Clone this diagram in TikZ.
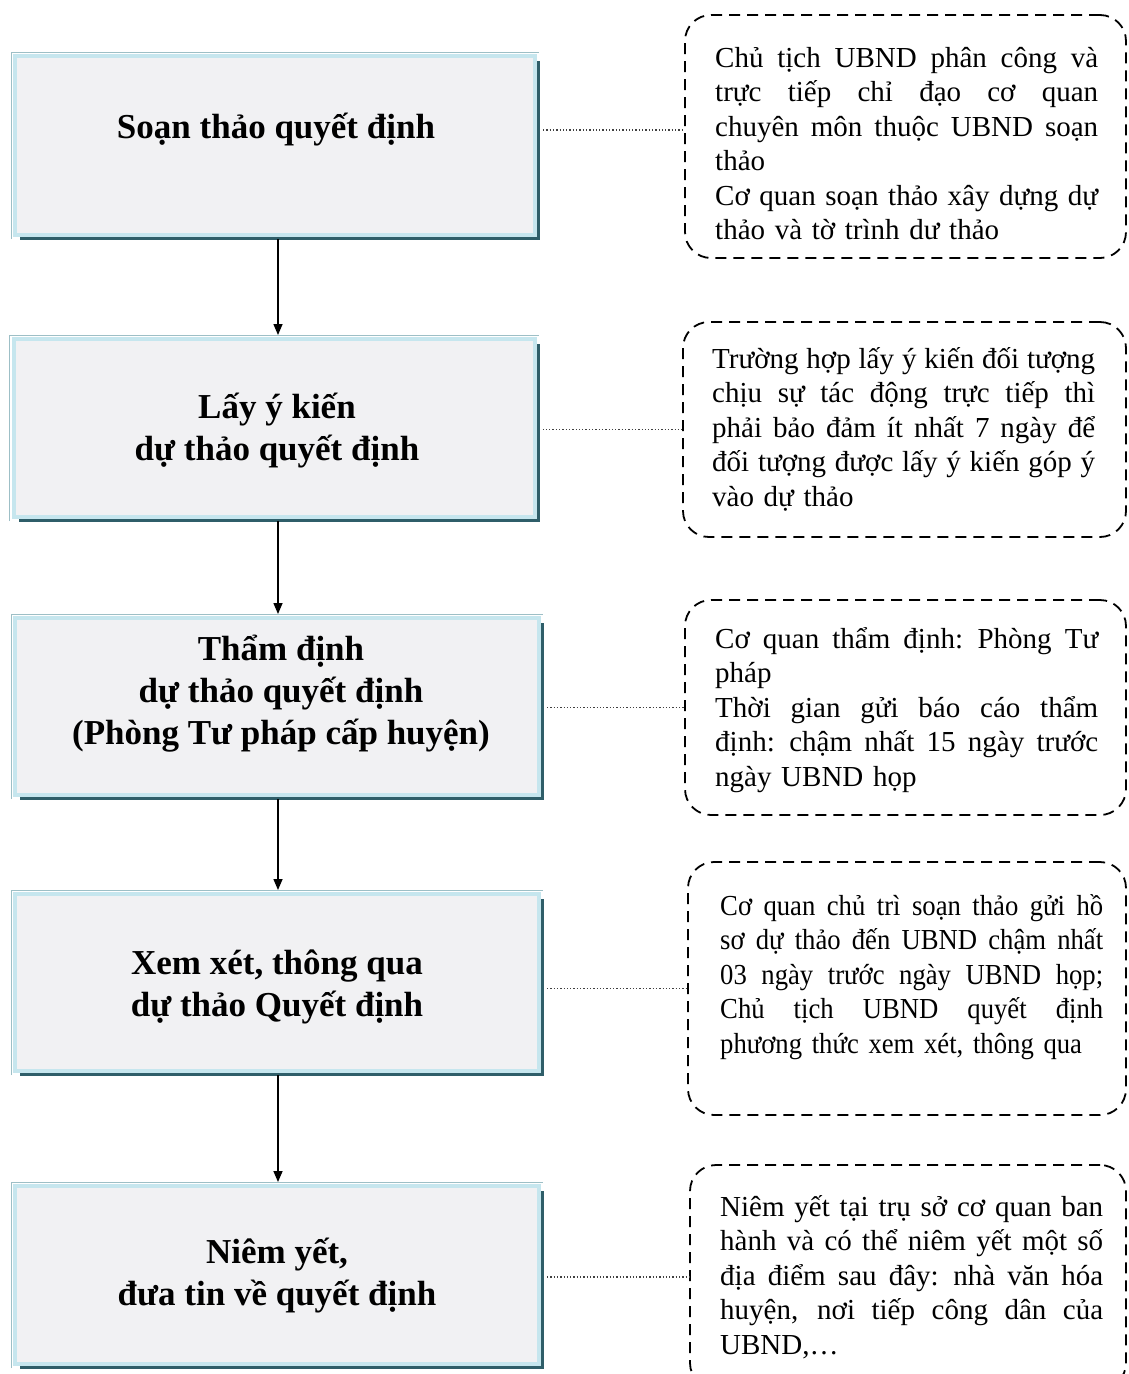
\documentclass[tikz,border=0pt]{standalone}
\usepackage{fontspec}
\setmainfont{Liberation Serif}
\newfontfamily\narrowserif[FakeStretch=0.92]{Liberation Serif}
\usetikzlibrary{arrows.meta,shadows}

\definecolor{boxfill}{HTML}{F1F1F3}
\definecolor{boxedge}{HTML}{C6E6EE}
\definecolor{boxrim}{HTML}{9DBFC6}
\definecolor{boxshade}{HTML}{2F5E69}

% width of the text inside a note
\newdimen\notewidth
\notewidth=383pt
% one justified line of a note, stretched to the full text width
\newcommand\fullline[1]{\leavevmode\hbox to \notewidth{\spaceskip=.25em plus .6em minus .1em\relax #1}}
\newcommand\notefont{\fontsize{29}{34.5}\selectfont}
\newcommand\narrownotefont{\narrowserif\fontsize{29}{34.5}\selectfont}

\tikzset{
  stepbox/.style={draw=boxedge, line width=4pt, fill=boxfill, inner sep=0pt,
    general shadow={fill=boxshade, shadow xshift=5pt, shadow yshift=-5pt},
    append after command={\pgfextra{\draw[boxrim, line width=0.8pt]
      ([shift={(-2pt,-2pt)}]\tikzlastnode.south west) --
      ([shift={(-2pt,2pt)}]\tikzlastnode.north west) --
      ([shift={(2pt,2pt)}]\tikzlastnode.north east);}}},
  steptext/.style={font=\fontsize{35}{42}\selectfont\bfseries, align=center, inner sep=0pt},
  notebox/.style={draw, line width=1.8pt, dash pattern=on 11pt off 7pt,
    rounded corners=26pt, inner sep=0pt},
  notetext/.style={font=\notefont, align=left, text width=383pt, inner sep=0pt, anchor=north west},
  flow/.style={line width=1.5pt, -{Triangle[length=11pt,width=9pt]}},
  link/.style={dotted, line width=1.3pt, draw=black!75}
}

\begin{document}
\begin{tikzpicture}[x=1pt, y=-1pt]
  \fill[white] (0,0) rectangle (1128,1374);
  \useasboundingbox (0,0) rectangle (1128,1374);

  % main steps
  \node[stepbox, minimum width=520pt, minimum height=179pt] (b1) at (275,145.5) {};
  \node[stepbox, minimum width=521pt, minimum height=178pt] (b2) at (274,428) {};
  \node[stepbox, minimum width=524pt, minimum height=177pt] (b3) at (277,706.5) {};
  \node[stepbox, minimum width=524pt, minimum height=177pt] (b4) at (277,982.5) {};
  \node[stepbox, minimum width=524pt, minimum height=178pt] (b5) at (277,1275) {};

  \node[steptext] (t1) at (276,130) {Soạn thảo quyết định};
  \node[steptext] (t2) at (277,431) {Lấy ý kiến\\dự thảo quyết định};
  \node[steptext] (t3) at (281,694) {Thẩm định\\dự thảo quyết định\\(Phòng Tư pháp cấp huyện)};
  \node[steptext] (t4) at (277,987) {Xem xét, thông qua\\dự thảo Quyết định};
  \node[steptext] (t5) at (277,1276) {Niêm yết,\\đưa tin về quyết định};

  % notes
  \node[notebox, minimum width=441pt, minimum height=243pt] (n1) at (905.5,136.5) {};
  \node[notebox, minimum width=443pt, minimum height=215pt] (n2) at (904.5,429.5) {};
  \node[notebox, minimum width=441pt, minimum height=215pt] (n3) at (905.5,707.5) {};
  \node[notebox, minimum width=438pt, minimum height=253pt] (n4) at (907,988.5) {};
  \node[notebox, minimum width=436pt, minimum height=224pt] (n5) at (908,1277) {};

  \node[notetext] (m1) at (715,47) {%
    \fullline{Chủ tịch UBND phân công và}\\
    \fullline{trực tiếp chỉ đạo cơ quan}\\
    \fullline{chuyên môn thuộc UBND soạn}\\
    thảo\\
    \fullline{Cơ quan soạn thảo xây dựng dự}\\
    thảo và tờ trình dư thảo};
  \node[notetext] (m2) at (712,347) {%
    \fullline{Trường hợp lấy ý kiến đối tượng}\\
    \fullline{chịu sự tác động trực tiếp thì}\\
    \fullline{phải bảo đảm ít nhất 7 ngày để}\\
    \fullline{đối tượng được lấy ý kiến góp ý}\\
    vào dự thảo};
  \node[notetext] (m3) at (715,627) {%
    \fullline{Cơ quan thẩm định: Phòng Tư}\\
    pháp\\
    \fullline{Thời gian gửi báo cáo thẩm}\\
    \fullline{định: chậm nhất 15 ngày trước}\\
    ngày UBND họp};
  \node[notetext, font=\narrownotefont] (m4) at (720,894) {%
    \fullline{Cơ quan chủ trì soạn thảo gửi hồ}\\
    \fullline{sơ dự thảo đến UBND chậm nhất}\\
    \fullline{03 ngày trước ngày UBND họp;}\\
    \fullline{Chủ tịch UBND quyết định}\\
    phương thức xem xét, thông qua};
  \node[notetext] (m5) at (720,1195) {%
    \fullline{Niêm yết tại trụ sở cơ quan ban}\\
    \fullline{hành và có thể niêm yết một số}\\
    \fullline{địa điểm sau đây: nhà văn hóa}\\
    \fullline{huyện, nơi tiếp công dân của}\\
    UBND,…};

  % flow between steps
  \draw[flow] ([yshift=-2pt]b1.south -| 278,0) -- ([yshift=2pt]b2.north -| 278,0);
  \draw[flow] ([yshift=-2pt]b2.south -| 278,0) -- ([yshift=2pt]b3.north -| 278,0);
  \draw[flow] ([yshift=-2pt]b3.south -| 278,0) -- ([yshift=2pt]b4.north -| 278,0);
  \draw[flow] ([yshift=-2pt]b4.south -| 278,0) -- ([yshift=2pt]b5.north -| 278,0);

  % steps tied to their notes
  \draw[link] ([xshift=6pt]b1.east |- t1) -- (n1.west |- t1);
  \draw[link] ([xshift=6pt]b2.east |- n2.west) -- (n2.west);
  \draw[link] ([xshift=6pt]b3.east |- n3.west) -- (n3.west);
  \draw[link] ([xshift=6pt]b4.east |- n4.west) -- (n4.west);
  \draw[link] ([xshift=6pt]b5.east |- n5.west) -- (n5.west);
\end{tikzpicture}
\end{document}
